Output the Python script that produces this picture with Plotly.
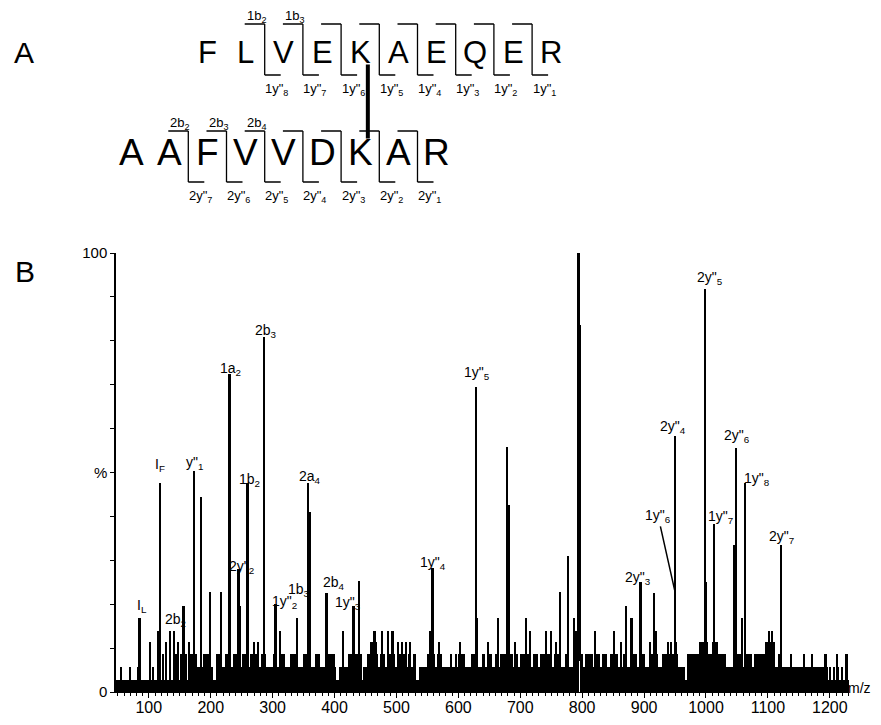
import plotly.graph_objects as go

# ---------------- Panel B : MS/MS spectrum data ----------------
ion_labels = ['I<sub>L</sub>', 'I<sub>F</sub>', '2b<sub>2</sub>', 'y"<sub>1</sub>', '1a<sub>2</sub>',
              '2y"<sub>2</sub>', '1b<sub>2</sub>', '2b<sub>3</sub>', '1y"<sub>2</sub>', '1b<sub>3</sub>',
              '2a<sub>4</sub>', '2b<sub>4</sub>', '1y"<sub>3</sub>', '1y"<sub>4</sub>', '1y"<sub>5</sub>',
              '2y"<sub>3</sub>', '2y"<sub>4</sub>', '2y"<sub>5</sub>', '1y"<sub>7</sub>', '2y"<sub>6</sub>',
              '1y"<sub>8</sub>', '2y"<sub>7</sub>']
ion_mz = [85.6, 118, 156.7, 173.4, 230.5, 245, 259.6, 286.5, 304.8, 339.8, 358, 387.7, 431.3,
          558.4, 628.5, 894.5, 950, 999, 1013.5, 1048.5, 1063, 1122]
ion_int = [16.8, 47.5, 19.6, 50.3, 72.4, 28.0, 47.5, 80.8, 20.0, 16.8, 47.5, 22.6, 19.6,
           28.2, 69.5, 25.1, 58.4, 91.7, 38.3, 55.5, 47.5, 33.5]

# label with pointer (1y"6, unresolved on the 2y"4 line)
ptr_label = '1y"<sub>6</sub>'
ptr_mz = 950
ptr_int = 22.8

# other (unlabelled) peaks above the noise band
other_mz = [56, 69.5, 83, 101.8, 107, 115, 123, 127.6, 134, 140.5, 145, 147.5, 153, 161, 166,
            185.2, 198.7, 217.6, 248, 269.8, 276.7, 313, 360.5, 414, 440, 465, 477, 487, 494,
            503, 509.4, 516.5, 522, 554, 568.6, 602.6, 630, 648, 664.5, 679.6, 682, 691.4, 710,
            715.7, 741.5, 750.7, 757.7, 764, 777.6, 787, 791, 793.8, 797, 820.7, 852, 863.7,
            870.8, 880, 910.6, 916, 920, 939, 944.5, 952.6, 990, 1001, 1012, 1046, 1058.6,
            1101.8, 1107]
other_int = [5.7, 5.7, 5.7, 11.4, 5.7, 13.9, 8.6, 11.4, 13.9, 13.9, 8.6, 11.4, 8.6, 8.6, 11.4,
             44.5, 22.8, 22.8, 19.6, 11.4, 11.4, 13.9, 41.0, 13.9, 25.3, 13.9, 13.9, 13.9, 13.9,
             11.4, 11.4, 11.4, 11.4, 13.9, 11.4, 11.4, 16.8, 11.4, 16.8, 55.7, 42.6, 11.4, 16.8,
             13.9, 13.9, 13.9, 11.4, 22.8, 31.0, 16.8, 13.9, 100, 83.6, 13.9, 13.9, 11.4,
             19.6, 16.8, 11.4, 22.6, 13.9, 11.4, 11.4, 11.4, 11.4, 25.0, 11.4, 33.5, 16.8,
             13.9, 13.9]

# dense noise floor: m/z ranges [lo, hi] at given intensity levels (%)
noise_a_level = 2.7
noise_a = [[47, 1231]]
noise_b_level = 5.7
noise_b = [[163.7, 204], [209.5, 403], [408, 444], [446, 532], [536, 556], [557, 966],
           [969, 1197], [1199, 1201], [1206, 1208], [1213, 1215], [1219, 1221], [1226, 1229]]
noise_c_level = 8.6
noise_c = [[166, 178], [188, 199], [209, 217.6], [223, 231], [236, 242], [250, 258], [263, 274],
           [282, 290], [301, 306], [312, 320], [328, 339], [349, 355], [368, 376], [390, 401],
           [422, 430], [433, 444], [452, 471], [473, 481], [484, 497], [503, 508], [511, 516],
           [519, 524], [527, 532], [549, 562], [565, 573], [586, 590], [594, 598], [600, 610],
           [621, 629], [638, 643], [648, 654], [659, 664], [667, 678], [681, 689], [691, 697],
           [700, 708], [710, 718], [721, 729], [732, 740], [743, 751], [754, 764], [772, 778],
           [786, 794], [797, 802], [805, 818], [821, 829], [832, 840], [845, 850], [853, 858],
           [866, 872], [877, 888], [896, 901], [910, 923], [929, 955], [969, 985], [985, 1033],
           [1044, 1060], [1063, 1075], [1078, 1111], [1116, 1122], [1136.5, 1139],
           [1157, 1160], [1170, 1173], [1192, 1195], [1211, 1214], [1225, 1229]]
noise_d_level = 11.4
noise_d = [[457, 468], [988, 1004], [1010, 1020], [1095, 1111]]
gap_mz = [795.8]      # white gap through the floor next to the precursor
gap_int = [7.0]

x_ticks = [100, 200, 300, 400, 500, 600, 700, 800, 900, 1000, 1100, 1200]

# ---------------- Panel A : cross-linked peptides ----------------
pep1 = list("FLVEKAEQER")
pep2 = list("AAFVVDKAR")
link1, link2 = 4, 6            # cross-linked K residues (0-based)
pep1_cuts = [2, 3, 4, 5, 6, 7, 8, 9]   # N-terminal residues before each cleavage
pep2_cuts = [2, 3, 4, 5, 6, 7, 8]
pep1_b_shown = [2, 3]
pep2_b_shown = [2, 3, 4]

# ---------------- geometry / styling ----------------
OFF = 8                      # page body margin offset
W, H = 881, 725
ML = 116 - OFF
PLOT_R = 849 - OFF
PLOT_B = 692 - OFF
MT = 0
MR = W - PLOT_R
MB = H - PLOT_B
PW, PH = PLOT_R - ML, PLOT_B - MT
FONT = "Liberation Sans, Arial, sans-serif"
SLOT = 38.2                  # px per residue
ROW = 107.0                  # px per peptide row
X0_SLOT = 131 - OFF          # px of first residue of peptide 2
ROW0_Y = 49.5 - OFF          # px of the top peptide row centre

def px_x(p):  # page px -> paper x
    return (p - OFF - ML) / PW

def px_y(p):  # page px -> paper y
    return 1 - (p - OFF - MT) / PH

fig = go.Figure()

def band_trace(ranges, level, color="black"):
    xs = [(lo + hi) / 2 for lo, hi in ranges]
    ws = [hi - lo for lo, hi in ranges]
    return go.Bar(x=xs, y=[level] * len(ranges), width=ws, marker=dict(color=color, line=dict(width=0)),
                  showlegend=False, hoverinfo="skip", xaxis="x", yaxis="y")

fig.add_trace(band_trace(noise_a, noise_a_level))
fig.add_trace(band_trace(noise_b, noise_b_level))
fig.add_trace(band_trace(noise_c, noise_c_level))
fig.add_trace(band_trace(noise_d, noise_d_level))

fig.add_trace(go.Bar(x=other_mz, y=other_int, width=[4 if v >= 99 else 2.6 for v in other_int],
                     marker=dict(color="black", line=dict(width=0)), showlegend=False))
fig.add_trace(go.Bar(x=ion_mz, y=ion_int, width=3,
                     marker=dict(color="black", line=dict(width=0)), showlegend=False))
fig.add_trace(go.Bar(x=gap_mz, y=gap_int, width=1.2,
                     marker=dict(color="white", line=dict(width=0)), showlegend=False))

annotations = []
# label offsets in px (dx right, dy down) relative to the peak top
label_off = [(2.5, -12.7), (0, -18.5), (-8.5, 14), (0, -8), (1, -5), (3, -2), (2, -3.5), (2, -6),
             (9, -2), (2, -28), (1, -6.5), (7, -10), (-6, -3), (0, -5), (1, -14), (-3, -4),
             (-2, -9), (5, -11), (6, -7), (1, -12), (12, -4), (0, -8)]
for lab, mz, it, (dx, dy) in zip(ion_labels, ion_mz, ion_int, label_off):
    annotations.append(dict(x=mz, y=it, xref="x", yref="y", text=lab, showarrow=False,
                            xanchor="center", yanchor="middle", xshift=dx, yshift=-dy,
                            font=dict(family=FONT, size=14, color="black")))
annotations.append(dict(x=ptr_mz, y=ptr_int, xref="x", yref="y", text=ptr_label, showarrow=True,
                        ax=-17, ay=-76, arrowhead=0, arrowwidth=1.5, arrowcolor="black", standoff=0,
                        font=dict(family=FONT, size=14, color="black")))

# panel letters and axis title
for txt, px, py, fs in [("A", 24, 52, 30), ("B", 25, 271, 30), ("m/z", 859, 688, 14)]:
    annotations.append(dict(x=px_x(px), y=px_y(py), xref="paper", yref="paper", text=txt,
                            showarrow=False, xanchor="center", yanchor="middle",
                            font=dict(family=FONT, size=fs, color="black")))

# ---- panel A drawing on hidden axes (x: residue slots, y: peptide rows) ----
off1 = link2 - link1          # slot offset of peptide 1 so the linked K's align
shapes = []
rows = [(pep1, off1, 0, pep1_cuts, pep1_b_shown, "1", 31, -2.5),
        (pep2, 0, 1, pep2_cuts, pep2_b_shown, "2", 37, 4)]
HB = 25.5 / ROW
for seq, off, r, cuts, bshown, tag, fsize, ysh in rows:
    for i, aa in enumerate(seq):
        annotations.append(dict(x=off + i, y=r, xref="x2", yref="y2", text=aa, showarrow=False,
                                xanchor="center", yanchor="middle", yshift=ysh,
                                font=dict(family=FONT, size=fsize, color="black")))
    for n in cuts:
        s = off + n - 0.5
        line = dict(color="black", width=1.3)
        shapes.append(dict(type="line", xref="x2", yref="y2", x0=s - 20 / SLOT, x1=s,
                           y0=r - HB, y1=r - HB, line=line))
        shapes.append(dict(type="line", xref="x2", yref="y2", x0=s, x1=s,
                           y0=r - HB, y1=r + HB, line=line))
        shapes.append(dict(type="line", xref="x2", yref="y2", x0=s, x1=s + 16 / SLOT,
                           y0=r + HB, y1=r + HB, line=line))
        ylab = tag + 'y"<sub>%d</sub>' % (len(seq) - n)
        annotations.append(dict(x=s, y=r + HB, xref="x2", yref="y2", text=ylab, showarrow=False,
                                xanchor="center", yanchor="middle", xshift=12, yshift=-14,
                                font=dict(family=FONT, size=13, color="black")))
        if n in bshown:
            blab = tag + 'b<sub>%d</sub>' % n
            annotations.append(dict(x=s, y=r - HB, xref="x2", yref="y2", text=blab, showarrow=False,
                                    xanchor="center", yanchor="middle", xshift=-8, yshift=8,
                                    font=dict(family=FONT, size=13, color="black")))
# cross-link bar between the two lysines
shapes.append(dict(type="line", xref="x2", yref="y2", x0=link2 + 0.2, x1=link2 + 0.2,
                   y0=0 + 15 / ROW, y1=1 - 18 / ROW, line=dict(color="black", width=4)))

y_dom_top = (PLOT_B - (253 - OFF)) / PH
a_dom_bot = 0.70
a_px_bot = PH * (1 - a_dom_bot)
fig.update_layout(
    width=W, height=H, margin=dict(l=ML, r=MR, t=MT, b=MB, autoexpand=False),
    paper_bgcolor="white", plot_bgcolor="white", barmode="overlay", bargap=0,
    showlegend=False, font=dict(family=FONT, color="black"),
    xaxis=dict(range=[47, 1231], tickvals=x_ticks, ticks="outside", ticklen=5, tickwidth=1,
               tickcolor="black", showline=True, linecolor="black", linewidth=1.2,
               showgrid=False, zeroline=False, tickfont=dict(family=FONT, size=16, color="black"),
               ticklabelstandoff=-4,
               minor=dict(dtick=10, tick0=0, ticks="outside", ticklen=3, tickcolor="black"),
               anchor="y", automargin=False),
    yaxis=dict(domain=[0, y_dom_top], range=[0, 100], tickvals=[0, 50, 100],
               ticktext=["0", "%", "100"], ticks="outside", ticklen=4, tickcolor="black",
               showline=True, linecolor="black", linewidth=1.5, showgrid=False, zeroline=False,
               tickfont=dict(family=FONT, size=15, color="black"),
               minor=dict(tickvals=list(range(0, 101, 10)), ticks="outside", ticklen=4,
                          tickcolor="black"), anchor="x", automargin=False),
    xaxis2=dict(domain=[0, 1], range=[(ML - X0_SLOT) / SLOT, (PLOT_R - X0_SLOT) / SLOT],
                visible=False, anchor="y2", automargin=False),
    yaxis2=dict(domain=[a_dom_bot, 1.0],
                range=[(a_px_bot - ROW0_Y) / ROW, -ROW0_Y / ROW], visible=False,
                anchor="x2", automargin=False),
    annotations=annotations, shapes=shapes,
)

fig.write_html("out.html")
